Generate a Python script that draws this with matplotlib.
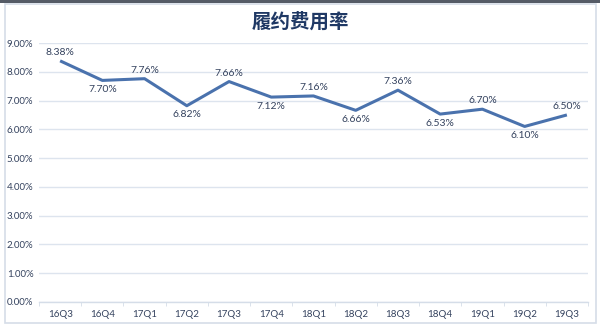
import matplotlib.pyplot as plt
from matplotlib.patches import Rectangle
from matplotlib.ticker import FuncFormatter

quarters = ["16Q3", "16Q4", "17Q1", "17Q2", "17Q3", "17Q4", "18Q1",
            "18Q2", "18Q3", "18Q4", "19Q1", "19Q2", "19Q3"]
rates = [8.38, 7.70, 7.76, 6.82, 7.66, 7.12, 7.16, 6.66, 7.36, 6.53, 6.70, 6.10, 6.50]
# label above (1) or below (-1) the point
label_side = [1, -1, 1, -1, 1, -1, 1, -1, 1, -1, 1, -1, 1]

plt.rcParams['font.family'] = ['Lato', 'DejaVu Sans']

fig = plt.figure(figsize=(6, 3.27), dpi=100)
fig.patch.set_facecolor("white")

# frame around the chart
fig.add_artist(Rectangle((0.008, 0.012), 0.986, 0.976, transform=fig.transFigure,
                         fill=False, edgecolor="#d5dde8", linewidth=1.2))
fig.add_artist(Rectangle((0, 0.992), 1, 0.008, transform=fig.transFigure,
                         facecolor="#555b66", edgecolor="none"))

ax = fig.add_axes([0.065, 0.0765, 0.915, 0.792])
x = list(range(len(quarters)))
ax.plot(x, rates, color="#4a72ad", linewidth=2.2, solid_capstyle="butt", zorder=3)

for xi, v, s in zip(x, rates, label_side):
    off = 6 if s > 0 else -6.5
    ax.annotate(f"{v:.2f}%", (xi, v), xytext=(0, off), textcoords="offset points",
                ha="center", va="center", fontsize=7.5, color="#34425e", zorder=4)

ax.set_xlim(-0.5, len(quarters) - 0.5)
ax.set_ylim(0, 9)
ax.set_yticks(range(0, 10))
ax.yaxis.set_major_formatter(FuncFormatter(lambda v, p: f"{v:.2f}%"))
ax.set_xticks(x)
ax.set_xticklabels(quarters)
ax.set_xticks([i - 0.5 for i in range(len(quarters) + 1)], minor=True)

ax.grid(axis="y", color="#dde4ee", linewidth=1)
ax.set_axisbelow(True)
for side in ["top", "right", "left"]:
    ax.spines[side].set_visible(False)
ax.spines["bottom"].set_color("#d5dde8")
ax.spines["bottom"].set_linewidth(1)

ax.tick_params(axis="y", length=0, labelsize=7, labelcolor="#34425e", pad=4)
ax.tick_params(axis="x", which="major", length=0, labelsize=7, labelcolor="#34425e", pad=6)
ax.tick_params(axis="x", which="minor", length=3, color="#d5dde8")

fig.text(0.5, 0.933, "履约费用率", ha="center", va="center", fontsize=14,
         fontweight="bold", color="#1f3864", family=["Noto Sans CJK SC", "DejaVu Sans"])

fig.savefig("out.png", dpi=100)
